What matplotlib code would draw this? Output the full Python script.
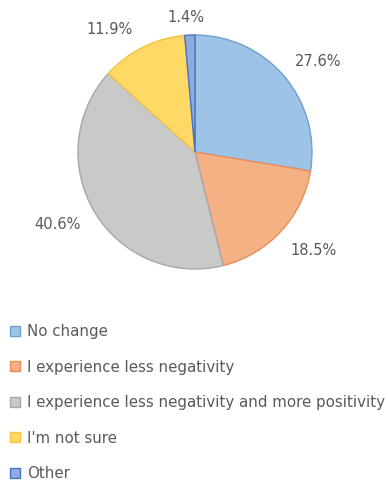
import numpy as np
import matplotlib
matplotlib.use("Agg")
import matplotlib.pyplot as plt
from matplotlib.patches import Patch

labels = ["No change", "I experience less negativity",
          "I experience less negativity and more positivity",
          "I'm not sure", "Other"]
shares = [27.6, 18.5, 40.6, 11.9, 1.4]

face_colors = ["#9dc3e6", "#f4b183", "#c9c9c9", "#ffd966", "#8faadc"]
edge_colors = ["#6f9fd0", "#ed8d5a", "#a8a8a8", "#f5c242", "#4472c4"]
# where each percentage sits: distance in pie radii, and angular nudge in degrees
label_radius = [1.31, 1.32, 1.33, 1.28, 1.15]
label_nudge = [-4.0, 3.0, -3.0, 8.5, 1.3]

plt.rcParams["font.family"] = ["DejaVu Sans"]
text_color = "#595959"

fig = plt.figure(figsize=(3.88, 4.82), dpi=100)
W, H = 388, 482
cx, cy, r = 195, 152, 117
ax = fig.add_axes([(cx - r) / W, (H - cy - r) / H, 2 * r / W, 2 * r / H])

wedges, _ = ax.pie(shares, colors=face_colors, startangle=90, counterclock=False,
                   wedgeprops=dict(linewidth=1.0))
for w, ec in zip(wedges, edge_colors):
    w.set_edgecolor(ec)
ax.set_xlim(-1, 1)
ax.set_ylim(-1, 1)
ax.set_aspect("equal")
ax.axis("off")

# percentage labels outside each slice
cum = np.cumsum([0] + shares[:-1])
for start, val, rad, nudge in zip(cum, shares, label_radius, label_nudge):
    ang = np.deg2rad(90 - (start + val / 2) * 3.6 + nudge)
    ax.text(rad * np.cos(ang), rad * np.sin(ang), f"{val:.1f}%",
            ha="center", va="center", fontsize=10.5, color=text_color, clip_on=False)

handles = [Patch(facecolor=fc, edgecolor=ec, linewidth=1.0)
           for fc, ec in zip(face_colors, edge_colors)]
leg = fig.legend(handles, labels, loc="upper left", bbox_to_anchor=(10 / W, 1 - 324 / H),
                 frameon=False, fontsize=10.8, handlelength=0.66, handleheight=0.66,
                 handletextpad=0.45, labelspacing=1.37, borderpad=0, borderaxespad=0)
for t in leg.get_texts():
    t.set_color(text_color)

fig.savefig("out.png", dpi=100)
